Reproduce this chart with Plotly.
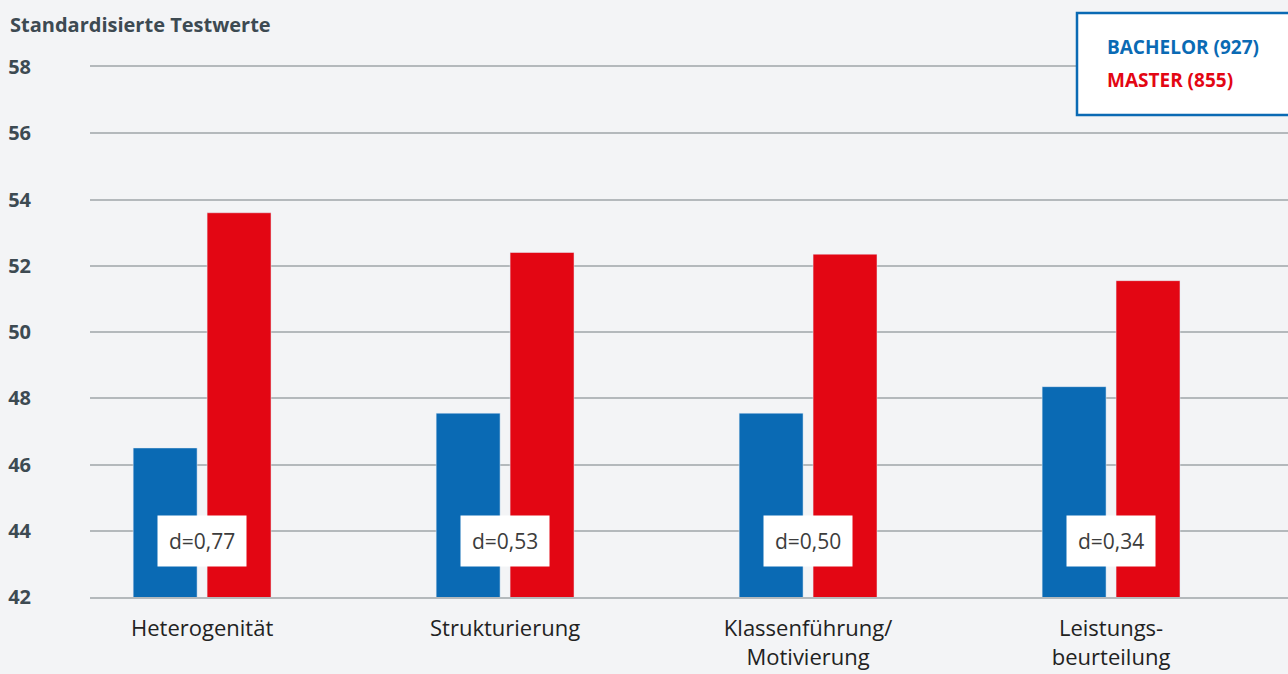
import plotly.graph_objects as go

categories = ["Heterogenität", "Strukturierung", "Klassenführung/<br>Motivierung", "Leistungs-<br>beurteilung"]
bachelor = [46.5, 47.55, 47.55, 48.35]
master = [53.6, 52.4, 52.35, 51.55]
effect_labels = ["d=0,77", "d=0,53", "d=0,50", "d=0,34"]
y_ticks = [42, 44, 46, 48, 50, 52, 54, 56, 58]

BLUE = "#0a6ab4"
RED = "#e30613"
BG = "#f3f4f6"
GRID = "#b4b9bc"
FONT = "Open Sans"
LABEL_Y = 43.7

W, H = 1288, 674
L, R, T, B = 90, 0, 67, 77
pw = W - L - R
ph = H - T - B

def px_x(x):
    return (x - L) / pw

def px_y(y):
    return (H - B - y) / ph

xi = list(range(len(categories)))
bw = 0.211
gap = 0.0165

fig = go.Figure()
fig.add_trace(go.Bar(x=xi, y=bachelor, marker_color=BLUE, width=bw,
                     offset=-bw - gap, name="Bachelor", hoverinfo="y"))
fig.add_trace(go.Bar(x=xi, y=master, marker_color=RED, width=bw,
                     offset=gap, name="Master", hoverinfo="y"))

for i, t in enumerate(effect_labels):
    fig.add_annotation(x=xi[i], y=LABEL_Y, text=t, showarrow=False,
                       bgcolor="white", borderpad=11,
                       font=dict(family=FONT, size=21, color="#3c3c3c"))

# legend box
fig.add_shape(type="rect", xref="paper", yref="paper",
              x0=px_x(1077), x1=px_x(1296), y0=px_y(115), y1=px_y(13),
              fillcolor="white", line=dict(color=BLUE, width=2.5), layer="above")
fig.add_annotation(xref="paper", yref="paper", x=px_x(1105), y=px_y(47),
                   xanchor="left", yanchor="middle", showarrow=False,
                   text="BACHELOR (927)",
                   font=dict(family=FONT, size=19, color=BLUE, weight=700))
fig.add_annotation(xref="paper", yref="paper", x=px_x(1105), y=px_y(80),
                   xanchor="left", yanchor="middle", showarrow=False,
                   text="MASTER (855)",
                   font=dict(family=FONT, size=19, color=RED, weight=700))

fig.update_layout(
    width=W, height=H,
    margin=dict(l=L, r=R, t=T, b=B),
    paper_bgcolor=BG, plot_bgcolor=BG,
    showlegend=False,
    title=dict(text="Standardisierte Testwerte", x=10 / W, xanchor="left",
               y=1 - 25 / H, yanchor="middle", xref="container", yref="container",
               font=dict(family=FONT, size=20, color="#3d4a52", weight=700)),
    xaxis=dict(tickmode="array", tickvals=xi, ticktext=categories,
               range=[-0.37, 3.584], showgrid=False, zeroline=False,
               showline=True, mirror=True, linecolor=GRID, linewidth=2,
               ticks="outside", ticklen=11, tickcolor="rgba(0,0,0,0)",
               tickfont=dict(family=FONT, size=22, color="#222222"),
               automargin=False, fixedrange=True),
    yaxis=dict(range=[42, 58], tickvals=y_ticks, showgrid=True,
               gridcolor=GRID, gridwidth=2, zeroline=False,
               ticks="outside", ticklen=54, tickcolor="rgba(0,0,0,0)",
               tickfont=dict(family=FONT, size=20, color="#3d4a52", weight=700),
               automargin=False, fixedrange=True),
)

fig.write_html("out.html", config={"displayModeBar": False},
               post_script="document.body.style.margin='0';document.body.style.background='#f3f4f6';")
